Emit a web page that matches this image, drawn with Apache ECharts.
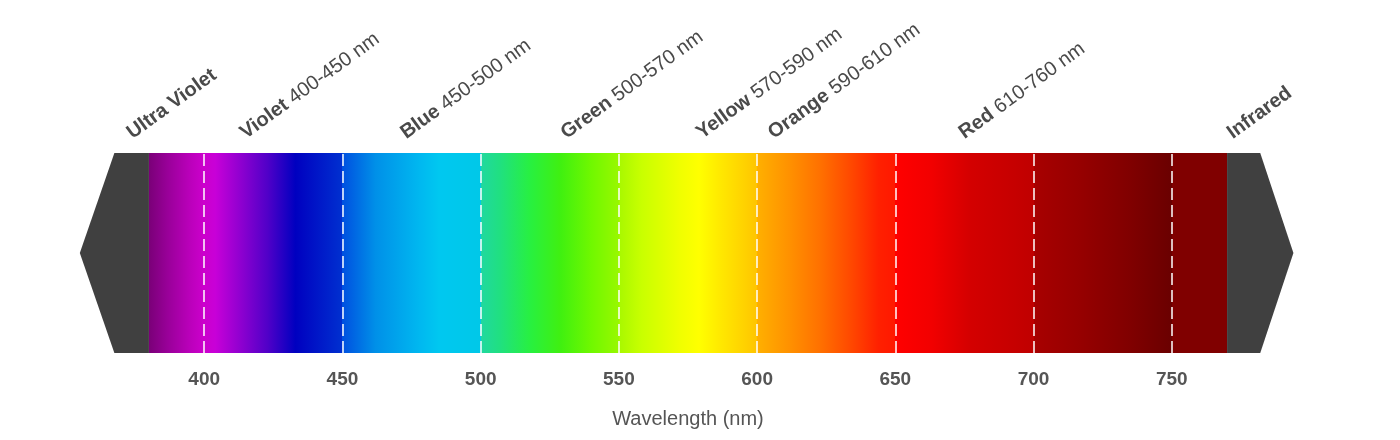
<!DOCTYPE html>
<html lang="en">

<head>
    <meta charset="UTF-8">
    <title>Visible spectrum</title>
    <script src="https://cdn.jsdelivr.net/npm/echarts@6/dist/echarts.min.js"></script>
    <style>
        html, body { margin: 0; padding: 0; background: #fff; }
    </style>
</head>

<body>
    <div id="main" style="width: 1400px;height:440px;"></div>
    <script type="text/javascript">
        // wavelength axis ticks (nm)
        var tickLabels = [400, 450, 500, 550, 600, 650, 700, 750];
        // visible band and the grey ends either side
        var visibleBand = [380, 770];
        var uvBand = [355, 380];
        var irBand = [770, 794];

        // colour stops; two stops at one wavelength = a hard edge
        var stopNm = [380, 387, 395, 400, 404, 413, 423, 433, 450, 450, 462, 478, 485, 500, 500, 507, 518, 529, 540, 550, 550,
            558, 572, 579, 587, 596, 600, 600, 612, 623, 634, 644, 650, 650, 663, 677, 700, 700, 717, 735, 746, 750, 750, 770];
        var stopColor = ['#7a0078', '#9a009a', '#bb00bb', '#cc00cc', '#c800d8', '#9000d0', '#5000c8', '#0000c0', '#0030d0', '#0050e0',
            '#0090e8', '#00b8f0', '#00c8f0', '#00c8e8', '#20d8a0', '#20e080', '#28f040', '#40f010', '#70f800', '#98f800', '#a8f800',
            '#c8ff00', '#f0ff00', '#ffff00', '#ffe800', '#ffd000', '#ffc400', '#ffb000', '#ff9000', '#ff7000', '#ff4800', '#ff2000',
            '#ff1800', '#ff0000', '#f20000', '#d40000', '#c00000', '#a80000', '#960000', '#800000', '#700000', '#6a0000', '#800000', '#800000'];

        // rotated band names above the bar
        var labelNm = [375, 416, 474, 532, 581, 607, 676, 773];
        var labelName = ['Ultra Violet', 'Violet', 'Blue', 'Green', 'Yellow', 'Orange', 'Red', 'Infrared'];
        var labelRange = ['', '400-450 nm', '450-500 nm', '500-570 nm', '570-590 nm', '590-610 nm', '610-760 nm', ''];

        var FONT = 'Liberation Sans, Arial, sans-serif';
        var myChart = echarts.init(document.getElementById('main'));

        var gradStops = stopNm.map(function (nm, i) {
            return { offset: (nm - visibleBand[0]) / (visibleBand[1] - visibleBand[0]), color: stopColor[i] };
        });

        myChart.setOption({
            animation: false,
            grid: { left: 66, right: 90, top: 153, bottom: 87 },
            xAxis: {
                type: 'value',
                min: 350,
                max: 800,
                interval: 50,
                name: 'Wavelength (nm)',
                nameLocation: 'middle',
                nameGap: 56,
                nameTextStyle: { fontFamily: FONT, fontSize: 20, color: '#555' },
                axisLine: { show: false },
                axisTick: { show: false },
                splitLine: { show: false },
                axisLabel: {
                    margin: 17,
                    fontFamily: FONT,
                    fontSize: 19,
                    fontWeight: 'bold',
                    color: '#555',
                    formatter: function (v) { return tickLabels.indexOf(v) >= 0 ? v : ''; }
                }
            },
            yAxis: { type: 'value', min: 0, max: 1, show: false },
            series: [
                {
                    type: 'custom',
                    name: 'spectrum',
                    silent: true,
                    data: [visibleBand],
                    renderItem: function (params, api) {
                        var p0 = api.coord([api.value(0), 1]);
                        var p1 = api.coord([api.value(1), 0]);
                        return {
                            type: 'rect',
                            shape: { x: p0[0], y: p0[1], width: p1[0] - p0[0], height: p1[1] - p0[1] },
                            style: { fill: new echarts.graphic.LinearGradient(0, 0, 1, 0, gradStops) }
                        };
                    },
                    markLine: {
                        silent: true,
                        symbol: 'none',
                        label: { show: false },
                        lineStyle: { color: 'rgba(255,255,255,0.75)', width: 2, type: [12, 5] },
                        data: tickLabels.map(function (t) { return { xAxis: t }; })
                    }
                },
                {
                    type: 'custom',
                    name: 'ends',
                    silent: true,
                    data: [[uvBand[0], uvBand[1], 0], [irBand[0], irBand[1], 1]],
                    renderItem: function (params, api) {
                        var a = api.value(0), b = api.value(1), half = (b - a) / 2;
                        var pts;
                        if (api.value(2) === 0) {
                            pts = [[a, 0.5], [a + half, 1], [b, 1], [b, 0], [a + half, 0]];
                        } else {
                            pts = [[a, 1], [b - half, 1], [b, 0.5], [b - half, 0], [a, 0]];
                        }
                        return {
                            type: 'polygon',
                            shape: { points: pts.map(function (p) { return api.coord(p); }) },
                            style: { fill: '#404040' }
                        };
                    }
                },
                {
                    type: 'custom',
                    name: 'labels',
                    silent: true,
                    data: labelNm.map(function (nm, i) { return [nm, i]; }),
                    renderItem: function (params, api) {
                        var i = api.value(1);
                        var p = api.coord([api.value(0), 1]);
                        var txt = '{b|' + labelName[i] + '}' + (labelRange[i] ? '{r| ' + labelRange[i] + '}' : '');
                        return {
                            type: 'text',
                            x: p[0],
                            y: p[1] - 10,
                            rotation: 36 * Math.PI / 180,
                            style: {
                                text: txt,
                                align: 'left',
                                verticalAlign: 'bottom',
                                rich: {
                                    b: { fontFamily: FONT, fontSize: 20, fontWeight: 'bold', fill: '#4a4a4a' },
                                    r: { fontFamily: FONT, fontSize: 20, fill: '#4a4a4a' }
                                }
                            }
                        };
                    }
                }
            ]
        });
    </script>
</body>

</html>
